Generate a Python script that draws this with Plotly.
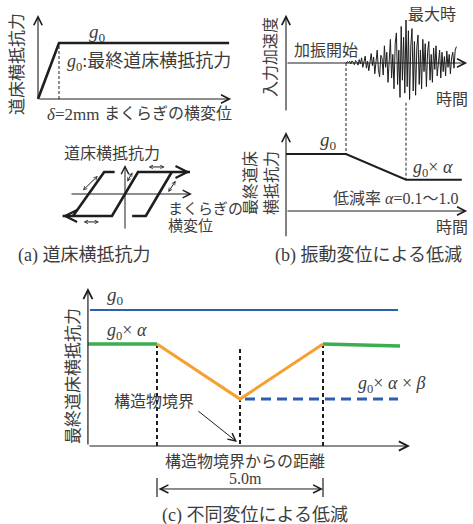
import plotly.graph_objects as go

W, H = 473, 524
FONT = "'Liberation Serif', 'Noto Sans CJK JP', serif"
INK = "#1e1e1e"
TXT = "#3c3c3c"
BLUE = "#2d5fae"
GREEN = "#3cae50"
ORANGE = "#f5a030"

# ---------------- (a) 道床横抵抗力 ----------------
disp_a = [0.0, 2.0, 18.2]        # まくらぎの横変位 [mm]
res_a = [0.0, 1.0, 1.0]          # 道床横抵抗力 / g0
delta_mm = 2.0

# hysteresis sketch (displacement, force), None splits branches
hyst_d = [-0.8, -1.6, -4.0, None, -4.8, -1.0, 1.0, 5.0, None, 0.55, 1.6, 3.6]
hyst_f = [1.0, 1.0, -1.0, None, -1.0, -1.0, 1.0, 1.0, None, -1.0, -1.0, 1.0]
hyst_tips = [((-1.2, 1.0), (-0.8, 1.0)), ((-4.3, -1.0), (-4.8, -1.0)),
             ((4.5, 1.0), (5.0, 1.0)), ((1.0, -1.0), (0.55, -1.0))]
hyst_moves = [((-3.35, 0.10), (-2.10, 0.82)), ((0.10, 0.50), (0.58, 0.98)),
              ((1.70, 1.23), (3.05, 1.23)), ((3.25, 0.02), (3.90, 0.60)),
              ((-3.30, -1.27), (-2.00, -1.27))]

# ---------------- (b) 振動変位による低減 ----------------
wave_t0, wave_dt = 10.0, 0.2
wave_acc = [0.00, 0.03, 0.01, 0.04, -0.02, 0.05, 0.02, -0.04, 0.06, 0.03, -0.05,
            0.08, -0.02, 0.12, -0.10, 0.05, 0.16, -0.12, 0.04, -0.18, 0.10,
            0.22, -0.06, 0.14, -0.25, 0.08, 0.30, -0.15, -0.32, 0.18, 0.12,
            -0.28, 0.40, -0.10, 0.25, -0.45, 0.15, 0.55, -0.35, 0.20, -0.60,
            0.45, 0.70, -0.50, 0.30, -0.80, 0.85, -0.40, 0.60, -0.70, 1.00,
            -0.55, 0.75, -0.85, 0.40, 0.80, -0.65, 0.50, -0.75, 0.35, 0.65,
            -0.50, 0.30, -0.60, 0.55, -0.20, 0.45, -0.55, 0.25, 0.50, -0.40,
            0.20, -0.45, 0.35, -0.15, 0.40, -0.30, 0.10, 0.30, -0.35, 0.25,
            -0.20, 0.15, -0.30, 0.28, -0.10, 0.20, -0.25, 0.12, 0.25, -0.12,
            0.30, 0.38]
wave_t = [wave_t0 + i * wave_dt for i in range(len(wave_acc))]
t_start, t_peak = 10.0, 20.0
res_b_t = [0.0, t_start, t_peak, 29.3]
alpha_b = 0.55
res_b = [1.0, 1.0, alpha_b, alpha_b]

# ---------------- (c) 不同変位による低減 ----------------
alpha_c, beta_c = 0.75, 0.46
zone_half = 2.5                   # 5.0 m 区間の半分
dist_left, dist_right = -4.58, 4.82
dist_green_l = [dist_left, -zone_half]
g0a_green_l = [alpha_c, alpha_c]
dist_orange = [-zone_half, 0.0, zone_half]
g0a_orange = [alpha_c, alpha_c * beta_c, alpha_c]
dist_green_r = [zone_half, dist_right]
g0a_green_r = [alpha_c, 0.735]
dist_blue = [-4.52, 4.76]
g0_blue = [1.0, 1.0]
dist_beta = [0.15, 4.76]

# -------- panel geometry: (box l, t, r, b), origin px, px per unit --------
panels = {
    1: ((28, 4, 242, 108), (38, 99), (10.5, 56)),
    2: ((55, 158, 200, 238), (125, 194), (13, 22)),
    3: ((278, 4, 473, 246), (286, 63), (6, 43)),
    4: ((278, 4, 473, 246), (286, 211), (6, 57)),
    5: ((78, 278, 445, 505), (240, 446), (33.2, 136)),
}

layout = dict(width=W, height=H, margin=dict(l=0, r=0, t=0, b=0),
              paper_bgcolor="white", plot_bgcolor="rgba(0,0,0,0)",
              showlegend=False, autosize=False)
for n, ((l, t, r, b), (ox, oy), (sx, sy)) in panels.items():
    sfx = "" if n == 1 else str(n)
    layout["xaxis" + sfx] = dict(domain=[l / W, r / W],
                                 range=[(l - ox) / sx, (r - ox) / sx],
                                 visible=False, fixedrange=True, anchor="y" + sfx)
    layout["yaxis" + sfx] = dict(domain=[1 - b / H, 1 - t / H],
                                 range=[(oy - b) / sy, (oy - t) / sy],
                                 visible=False, fixedrange=True, anchor="x" + sfx)

fig = go.Figure()
ann = []


def ref(n):
    return ("x", "y") if n == 1 else ("x%d" % n, "y%d" % n)


def line(n, x, y, color=INK, width=1.0, dash="solid"):
    xr, yr = ref(n)
    fig.add_trace(go.Scatter(x=x, y=y, xaxis=xr, yaxis=yr, mode="lines",
                             line=dict(color=color, width=width, dash=dash),
                             hoverinfo="skip", showlegend=False,
                             connectgaps=False))


def arrow(n, tail, head, width=1.1, size=1.5, style=5, both=False, color=INK):
    xr, yr = ref(n)
    ann.append(dict(x=head[0], y=head[1], ax=tail[0], ay=tail[1],
                    xref=xr, yref=yr, axref=xr, ayref=yr, text="",
                    showarrow=True, arrowhead=style, arrowsize=size,
                    startarrowhead=style, startarrowsize=size,
                    arrowwidth=width, arrowcolor=color, standoff=0,
                    startstandoff=0, arrowside="end+start" if both else "end"))


def label(txt, px, py, size=16, xanchor="center", angle=0, color=TXT):
    ann.append(dict(text=txt, x=px / W, y=1 - py / H, xref="paper",
                    yref="paper", showarrow=False, xanchor=xanchor,
                    yanchor="middle", textangle=angle,
                    font=dict(family=FONT, size=size, color=color)))


G0 = "<i>g</i><sub>0</sub>"

# ---- (a) upper: bilinear curve ----
arrow(1, (0, 0), (0, 1.5))
arrow(1, (0, 0), (18.4, 0))
line(1, [delta_mm, delta_mm], [0, 1.0], width=1, dash="3px,2px")
line(1, disp_a, res_a, width=2.6)
label(G0, 97, 33, size=19)
label(G0 + ":最終道床横抵抗力", 65, 62, size=18, xanchor="left")
label("<i>δ</i>=2mm", 73, 115, size=17)
label("まくらぎの横変位", 234, 113, size=16, xanchor="right")
label("道床横抵抗力", 18, 64, size=17, angle=-90)

# ---- (a) lower: hysteresis ----
arrow(2, (0, -1.64), (0, 1.32), width=1)
arrow(2, (-4.23, 0), (5.15, 0), width=1)
line(2, hyst_d, hyst_f, width=2.6)
for tail, head in hyst_tips:
    arrow(2, tail, head, width=2.6, size=0.9, style=5)
for tail, head in hyst_moves:
    arrow(2, tail, head, width=1, size=0.7, style=5, both=True)
label("道床横抵抗力", 112, 153, size=16)
label("まくらぎの", 166, 209, size=15, xanchor="left")
label("横変位", 166, 226, size=15, xanchor="left")
label("(a) 道床横抵抗力", 84, 256, size=18)

# ---- (b) upper: input acceleration ----
arrow(3, (0, -1.14), (0, 1.12))
arrow(3, (0, 0), (30.2, 0))
line(3, wave_t, wave_acc, width=1)
label("入力加速度", 270, 57, size=16, angle=-90)
label("加振開始", 326, 51, size=16)
label("最大時", 432, 15, size=16)
label("時間", 452, 100, size=16)

# ---- (b) lower: final resistance vs time ----
acc_axis_in_b = (211 - 63) / 57
line(4, [t_start, t_start], [acc_axis_in_b, 1.0], width=1, dash="3px,2px")
line(4, [t_peak, t_peak], [1.9, alpha_b], width=1, dash="3px,2px")
arrow(4, (0, -0.47), (0, 1.386))
arrow(4, (0, 0), (30.2, 0))
line(4, res_b_t, res_b, width=2)
label(G0, 328, 141, size=19)
label(G0 + "× <i>α</i>", 411, 169, size=18, xanchor="left")
label("低減率 <i>α</i>=0.1〜1.0", 395, 198, size=16)
label("時間", 452, 227, size=16)
label("最終道床<br>横抵抗力", 261, 183, size=16, angle=-90)
label("(b) 振動変位による低減", 368, 256, size=18)

# ---- (c) differential displacement ----
ab = alpha_c * beta_c
line(5, [-zone_half, -zone_half], [alpha_c, 0], width=2, dash="4px,3px")
line(5, [0, 0], [0.713, 0], width=2, dash="4px,3px")
line(5, [zone_half, zone_half], [alpha_c, 0], width=2, dash="4px,3px")
line(5, dist_blue, g0_blue, color=BLUE, width=2)
line(5, dist_beta, [ab, ab], color=BLUE, width=3, dash="10px,6px")
line(5, dist_green_l, g0a_green_l, color=GREEN, width=3.5)
line(5, dist_green_r, g0a_green_r, color=GREEN, width=3.5)
line(5, dist_orange, g0a_orange, color=ORANGE, width=3)
arrow(5, (dist_left, 0), (dist_left, 1.162), width=1.2)
arrow(5, (dist_left, 0), (5.12, 0), width=1.2)
arrow(5, (-1.30, 0.265), (-0.09, 0.03), width=1)
dim_y = -0.316
arrow(5, (-zone_half, dim_y), (zone_half, dim_y), width=1, size=1.6, both=True)
line(5, [-zone_half, -zone_half, None, zone_half, zone_half],
     [-0.235, -0.375, None, -0.235, -0.375], width=1.2)
label(G0, 115, 296, size=19)
label(G0 + "× <i>α</i>", 127, 332, size=18)
label(G0 + "× <i>α</i> × <i>β</i>", 392, 384, size=18)
label("構造物境界", 154, 401, size=16)
label("最終道床横抵抗力", 73, 376, size=17, angle=-90)
label("構造物境界からの距離", 245, 461, size=16)
label("5.0m", 245, 478, size=16)
label("(c) 不同変位による低減", 255, 515, size=18)

layout["annotations"] = ann
fig.update_layout(**layout)
fig.write_html("out.html")
